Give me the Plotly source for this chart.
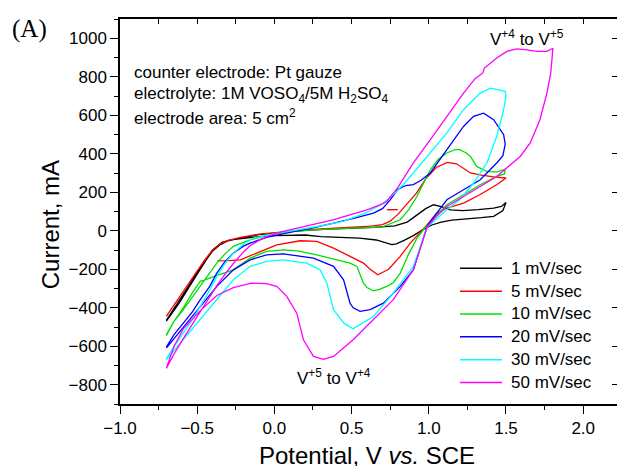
import plotly.graph_objects as go

# ---------------- data (potential V vs SCE, current mA) ----------------
black_v = [-0.70,-0.65,-0.60,-0.55,-0.50,-0.45,-0.40,-0.35,-0.30,-0.22,-0.10,0.05,0.20,0.35,0.50,0.65,0.78,0.86,0.92,0.98,1.03,1.08,1.14,1.22,1.32,1.42,1.47,1.50,
           1.48,1.42,1.34,1.25,1.15,1.08,1.02,0.96,0.90,0.84,0.79,0.76,0.72,0.66,0.55,0.42,0.30,0.20,0.10,0.00,-0.10,-0.20,-0.28,-0.34,-0.40,-0.48,-0.55,-0.62,-0.70]
black_i = [-465,-405,-345,-280,-215,-160,-105,-72,-52,-38,-20,-8,2,8,12,18,25,45,80,115,135,125,108,105,110,118,126,147,
           105,75,68,62,55,45,30,5,-25,-50,-68,-72,-62,-48,-38,-33,-30,-22,-22,-25,-30,-38,-47,-60,-100,-200,-290,-380,-470]

red_v = [-0.70,-0.65,-0.60,-0.55,-0.50,-0.45,-0.40,-0.35,-0.30,-0.22,-0.10,0.05,0.20,0.30,0.45,0.60,0.70,0.75,0.80,0.85,0.92,0.98,1.05,1.12,1.18,1.27,1.33,1.42,1.50,
         1.44,1.33,1.225,1.117,1.05,0.99,0.88,0.815,0.74,0.67,0.62,0.577,0.49,0.383,0.275,0.167,0.015,-0.115,-0.22,-0.30,-0.37,
         None,0.73,0.80]
red_i = [-445,-385,-325,-265,-205,-150,-100,-68,-50,-35,-18,-5,5,10,17,22,32,50,85,130,195,270,330,355,348,300,290,280,274,
         239,187,144,118,90,31,-64,-133,-200,-229,-200,-168,-133,-90,-55,-52,-73,-116,-151,-155,-156,
         None,109,110]

green_v = [-0.70,-0.65,-0.59,-0.53,-0.48,-0.42,-0.373,-0.32,-0.266,-0.20,-0.157,-0.05,0.10,0.25,0.40,0.55,0.70,0.815,0.87,0.923,0.97,1.01,1.06,1.117,1.17,1.20,1.24,1.27,1.31,1.376,1.44,1.495,
           1.49,1.44,1.333,1.225,1.117,1.05,0.99,0.923,0.87,0.815,0.77,0.728,0.68,0.642,0.60,0.577,0.55,0.534,0.49,0.40,0.274,0.15,0.058,-0.05,-0.157,-0.266,-0.373,-0.45,-0.48,-0.53,-0.59,-0.65,-0.70]
green_i = [-540,-470,-410,-345,-289,-220,-168,-120,-81,-58,-47,-25,-5,5,10,12,20,57,110,178,250,317,370,404,421,421,405,386,334,308,305,320,
           295,282,239,187,135,80,31,-40,-120,-220,-270,-289,-305,-312,-295,-272,-215,-185,-168,-150,-125,-105,-99,-107,-142,-203,-234,-255,-263,-320,-400,-470,-545]

blue_v = [-0.70,-0.65,-0.59,-0.53,-0.48,-0.42,-0.373,-0.32,-0.266,-0.20,-0.157,-0.05,0.10,0.25,0.383,0.52,0.642,0.70,0.75,0.80,0.85,0.90,0.95,1.01,1.117,1.225,1.29,1.355,1.42,1.485,1.495,
          1.48,1.44,1.333,1.225,1.117,1.05,0.99,0.90,0.815,0.706,0.62,0.555,0.51,0.49,0.448,0.383,0.253,0.058,-0.05,-0.157,-0.266,-0.373,-0.48,-0.59,-0.70]
blue_i = [-605,-540,-480,-420,-358,-290,-220,-160,-116,-80,-64,-35,-8,15,40,65,92,115,160,215,235,240,262,300,421,542,594,611,577,499,450,
          390,352,265,213,161,90,26,-203,-289,-376,-410,-419,-400,-376,-255,-185,-142,-120,-125,-151,-203,-289,-393,-500,-610]

cyan_v = [-0.70,-0.65,-0.59,-0.53,-0.48,-0.42,-0.373,-0.32,-0.266,-0.20,-0.136,0.00,0.15,0.30,0.45,0.60,0.70,0.793,0.90,1.01,1.117,1.225,1.333,1.40,1.463,1.495,
          1.50,1.485,1.44,1.376,1.29,1.20,1.117,1.05,0.99,0.90,0.77,0.642,0.51,0.45,0.383,0.34,0.296,0.21,0.058,-0.05,-0.157,-0.266,-0.373,-0.48,-0.59,-0.70]
cyan_i = [-667,-600,-532,-460,-393,-310,-237,-170,-116,-70,-38,-15,5,25,50,95,140,204,300,404,508,629,715,741,732,724,
          698,629,490,352,248,161,109,60,20,-185,-324,-445,-509,-480,-410,-272,-203,-168,-151,-159,-185,-255,-358,-462,-566,-670]

magenta_v = [-0.70,-0.65,-0.59,-0.53,-0.48,-0.42,-0.373,-0.32,-0.266,-0.20,-0.157,-0.10,-0.05,0.05,0.145,0.25,0.38,0.50,0.60,0.70,0.728,0.80,0.90,1.01,1.117,1.225,1.30,1.35,1.36,1.44,1.505,1.57,1.635,1.70,1.765,1.804,
             1.79,1.765,1.72,1.657,1.592,1.527,1.44,1.333,1.225,1.117,1.05,0.99,0.90,0.77,0.64,0.51,0.383,0.318,0.253,0.188,0.145,0.08,0.015,-0.05,-0.15,-0.266,-0.373,-0.48,-0.59,-0.65,-0.70]
magenta_i = [-715,-640,-560,-480,-420,-345,-285,-225,-170,-110,-78,-50,-30,-5,14,35,57,85,109,140,152,225,352,473,594,715,790,820,845,897,932,945,940,932,932,948,
             820,715,577,456,386,343,282,230,178,126,75,20,-203,-358,-462,-566,-653,-668,-653,-566,-428,-341,-289,-275,-272,-295,-336,-415,-510,-600,-715]

series_names = ["1 mV/sec", "5 mV/sec", "10 mV/sec", "20 mV/sec", "30 mV/sec", "50 mV/sec"]
series_v = [black_v, red_v, green_v, blue_v, cyan_v, magenta_v]
series_i = [black_i, red_i, green_i, blue_i, cyan_i, magenta_i]
series_colors = ["#000000", "#ff0000", "#00e000", "#0000ff", "#00ffff", "#ff00ff"]

x_range = [-1.0, 2.219]
y_range = [-900, 1100]

FONT = "Arial, Liberation Sans, sans-serif"

fig = go.Figure()
for name, v, i, c in zip(series_names, series_v, series_i, series_colors):
    fig.add_trace(go.Scatter(x=v, y=i, mode="lines", name=name, showlegend=False,
                             line=dict(color=c, width=1.3), connectgaps=False))

# empty trace so the mirrored (top/right) axes are drawn
fig.add_trace(go.Scatter(x=[], y=[], xaxis="x2", yaxis="y2", showlegend=False, hoverinfo="skip"))

axis_font = dict(family=FONT, size=17, color="black")

fig.update_layout(
    width=617, height=466,
    margin=dict(l=120, r=0, t=19, b=62),
    paper_bgcolor="white", plot_bgcolor="white",
    font=dict(family=FONT, size=17, color="black"),
    showlegend=False,
    xaxis=dict(range=x_range, showgrid=False, zeroline=False,
               showline=True, linecolor="black", linewidth=1.5,
               ticks="outside", ticklen=8, tickwidth=1.3, tickcolor="black",
               dtick=0.5, tick0=0, tickformat=".1f", tickfont=axis_font,
               minor=dict(ticks="outside", ticklen=4, dtick=0.25, tick0=0, tickcolor="black", tickwidth=1.2),
               mirror=False),
    yaxis=dict(range=y_range, showgrid=False, zeroline=False,
               showline=True, linecolor="black", linewidth=1.5,
               ticks="outside", ticklen=8, tickwidth=1.3, tickcolor="black",
               dtick=200, tick0=0, tickfont=axis_font,
               minor=dict(ticks="outside", ticklen=4, dtick=100, tick0=0, tickcolor="black", tickwidth=1.2)),
    xaxis2=dict(range=x_range, overlaying="x", side="top", anchor="y2",
                showgrid=False, zeroline=False, showline=True, linecolor="black", linewidth=1.5,
                ticks="inside", ticklen=5, tickwidth=1.3, tickcolor="black",
                dtick=0.25, tick0=0, showticklabels=False),
    yaxis2=dict(range=y_range, overlaying="y", side="right", anchor="x2",
                showgrid=False, zeroline=False, showline=False,
                ticks="inside", ticklen=5, tickwidth=1.3, tickcolor="black",
                dtick=200, tick0=0, showticklabels=False),
)

def px_to_paper(px, py):
    return (px - 120) / 497.0, (403.5 - py) / 384.5

annots = []
shapes = []
def add_text(text, px, py, size=17, xanchor="left", family=FONT, angle=0):
    x, y = px_to_paper(px, py)
    annots.append(dict(text=text, x=x, y=y, xref="paper", yref="paper",
                       xanchor=xanchor, yanchor="middle", showarrow=False,
                       textangle=angle, font=dict(family=family, size=size, color="black")))

add_text("counter electrode: Pt gauze", 132, 72)
add_text("electrolyte: 1M VOSO<sub>4</sub>/5M H<sub>2</sub>SO<sub>4</sub>", 132, 95)
add_text("electrode area: 5 cm<sup>2</sup>", 132, 117)
add_text("V<sup>+4</sup> to V<sup>+5</sup>", 488, 38)
add_text("V<sup>+5</sup> to V<sup>+4</sup>", 295, 377)
add_text("(A)", 29, 29, size=25, xanchor="center", family="Liberation Serif, Times New Roman, serif")
add_text("Current, mA", 50, 225, size=24, xanchor="center", angle=-90)
add_text("Potential, V <i>vs.</i> SCE", 367, 455, size=24, xanchor="center")

# legend (key lines + labels)
leg_x0, leg_x1, leg_tx = 460, 502, 509
leg_y0, leg_dy = 268, 22.8
for k, (name, c) in enumerate(zip(series_names, series_colors)):
    py = leg_y0 + k * leg_dy
    xa, ya = px_to_paper(leg_x0, py)
    xb, _ = px_to_paper(leg_x1, py)
    shapes.append(dict(type="line", xref="paper", yref="paper", x0=xa, x1=xb, y0=ya, y1=ya,
                       line=dict(color=c, width=1.5)))
    add_text(name, leg_tx, py)

fig.update_layout(annotations=annots, shapes=shapes)

fig.write_html("out.html")
